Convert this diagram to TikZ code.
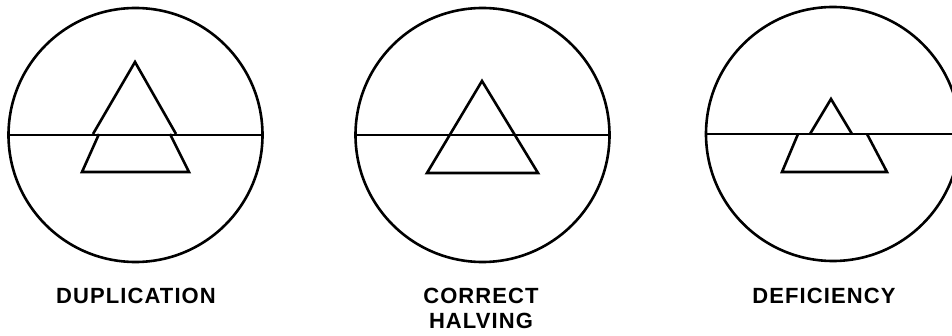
\documentclass[tikz,border=0pt]{standalone}
\usepackage{fontspec}
\newfontfamily\lettering[LetterSpace=5]{Liberation Sans}
\usetikzlibrary{positioning}

\begin{document}
\begin{tikzpicture}[x=1pt, y=-1pt,
  every node/.style={font=\lettering\bfseries\fontsize{22}{25}\selectfont, align=center},
  disc/.style ={circle, draw, line width=2.6pt, minimum size=254pt, inner sep=0pt},
  chord/.style={line width=2.6pt},
  prism/.style={line width=2.6pt, line join=miter},
  caption/.style={anchor=base},
]
\useasboundingbox (0,0) rectangle (952,336);
\clip (0,0) rectangle (952,336);

% Duplication
\node[disc] (dup) at (135.5,135) {};
\draw[chord] (dup.west) -- (dup.east);
\draw[prism] (93,134) -- (135,62) -- (176,134);
\draw[prism] (99,134) -- (82,172) -- (189,172) -- (170,134);
\node[caption] (dupl) at (136,303) {DUPLICATION};

% Correct halving
\node[disc] (cor) at (482.5,135) {};
\draw[chord] (cor.west) -- (cor.east);
\draw[prism] (482,81) -- (538,173) -- (427,173) -- cycle;
\node[caption] (corl) at (481,328) {CORRECT\\HALVING};

% Deficiency
\node[disc] (def) at (833,134) {};
\coordinate (edge) at (952,134);
\draw[chord] (def.west) -- (edge);
\draw[prism] (810,134) -- (831,99) -- (852,134);
\draw[prism] (798,134) -- (782,172) -- (887,172) -- (867,134);
\node[caption] (defl) at (824,303) {DEFICIENCY};

\end{tikzpicture}
\end{document}
